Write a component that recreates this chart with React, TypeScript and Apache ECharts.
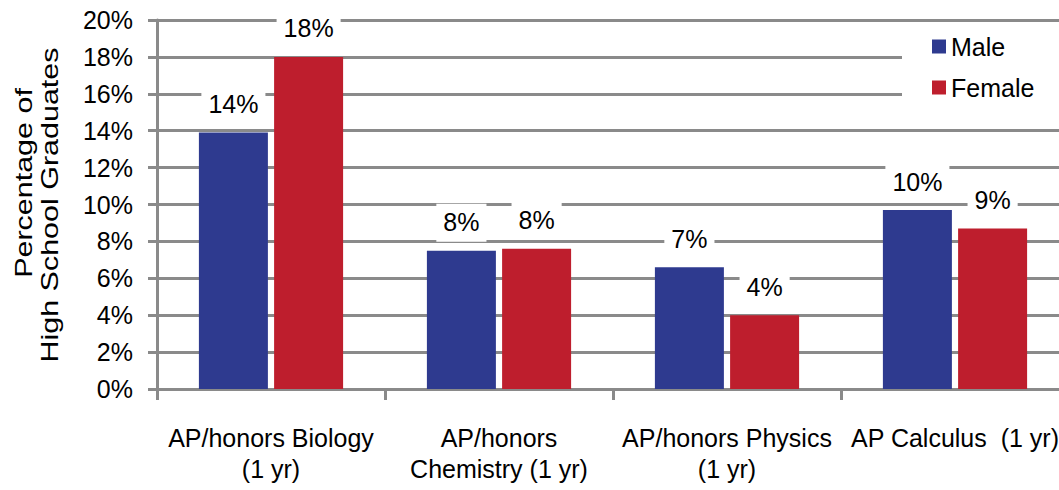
import React, { useEffect, useRef } from "react";
import * as echarts from "echarts";

const categories = [
  "AP/honors Biology\n(1 yr)",
  "AP/honors\nChemistry (1 yr)",
  "AP/honors Physics\n(1 yr)",
  "AP Calculus  (1 yr)",
];
const maleValues = [13.9, 7.5, 6.6, 9.7];
const femaleValues = [18.0, 7.6, 4.0, 8.7];
const seriesNames = ["Male", "Female"];
const yTitleLines = ["Percentage of", "High School Graduates"];

const FONT = '"Liberation Sans", Arial, sans-serif';
const GRAY = "#8a8a8a";
const BLUE = "#2e3a8f";
const RED = "#be1e2d";

const barLabel = {
  show: true,
  position: "top" as const,
  distance: 9,
  formatter: (p: any) => `${Math.round(p.value)}%`,
  color: "#000",
  fontFamily: FONT,
  fontSize: 25,
  lineHeight: 25,
  backgroundColor: "#fff",
  padding: [6, 7, 7, 7],
};

export default function App() {
  const ref = useRef<HTMLDivElement>(null);

  useEffect(() => {
    if (!ref.current) return;
    const chart = echarts.init(ref.current, null, { renderer: "svg" });
    chart.setOption({
      animation: false,
      backgroundColor: "#fff",
      textStyle: { fontFamily: FONT },
      // plot area runs slightly past the visible right edge
      grid: { left: 157, top: 20, bottom: 101, width: 912 },
      legend: {
        data: seriesNames,
        orient: "vertical",
        left: 902,
        top: 26,
        padding: [8, 40, 12, 30],
        backgroundColor: "#fff",
        itemWidth: 14,
        itemHeight: 14,
        itemGap: 16,
        icon: "rect",
        textStyle: { color: "#000", fontSize: 25, lineHeight: 25, fontFamily: FONT },
      },
      xAxis: {
        type: "category",
        data: categories,
        axisLine: { show: true, lineStyle: { color: GRAY, width: 3 } },
        axisTick: { show: true, length: 11, lineStyle: { color: GRAY, width: 3 } },
        axisLabel: {
          interval: 0,
          margin: 33,
          color: "#000",
          fontSize: 25,
          lineHeight: 31,
          fontFamily: FONT,
        },
      },
      yAxis: {
        type: "value",
        min: 0,
        max: 20,
        interval: 2,
        axisLine: { show: true, lineStyle: { color: GRAY, width: 3 } },
        axisTick: { show: true, length: 9, lineStyle: { color: GRAY, width: 3 } },
        axisLabel: {
          formatter: "{value}%",
          margin: 24,
          color: "#000",
          fontSize: 25,
          fontFamily: FONT,
        },
        splitLine: { show: true, lineStyle: { color: GRAY, width: 3 } },
      },
      graphic: [
        {
          type: "text",
          x: 24,
          y: 183,
          rotation: Math.PI / 2,
          scaleX: 1.27,
          style: {
            text: yTitleLines[0],
            font: `24px ${FONT}`,
            fill: "#000",
            align: "center",
            verticalAlign: "middle",
          },
        },
        {
          type: "text",
          x: 50,
          y: 205,
          rotation: Math.PI / 2,
          scaleX: 1.27,
          style: {
            text: yTitleLines[1],
            font: `24px ${FONT}`,
            fill: "#000",
            align: "center",
            verticalAlign: "middle",
          },
        },
      ],
      series: [
        {
          name: seriesNames[0],
          type: "bar",
          data: maleValues,
          barWidth: 69,
          barGap: "9%",
          itemStyle: { color: BLUE },
          label: barLabel,
        },
        {
          name: seriesNames[1],
          type: "bar",
          data: femaleValues,
          barWidth: 69,
          barGap: "9%",
          itemStyle: { color: RED },
          label: barLabel,
        },
      ],
    });
    return () => chart.dispose();
  }, []);

  return (
    <div
      style={{
        position: "fixed",
        left: 0,
        top: 0,
        width: 1059,
        height: 490,
        overflow: "hidden",
        background: "#fff",
      }}
    >
      <div ref={ref} style={{ width: 1080, height: 490 }} />
    </div>
  );
}
